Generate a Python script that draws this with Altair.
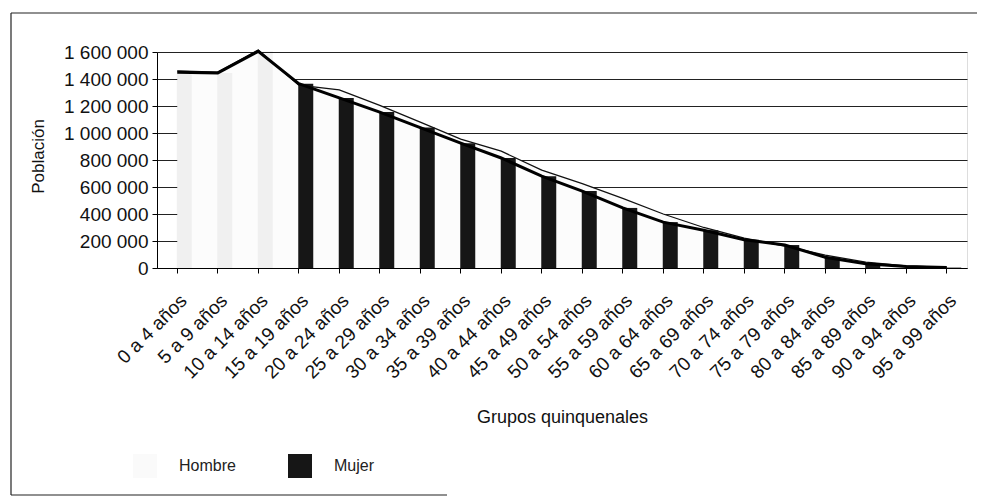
import altair as alt
import pandas as pd

grupos = ["0 a 4 años", "5 a 9 años", "10 a 14 años", "15 a 19 años", "20 a 24 años",
          "25 a 29 años", "30 a 34 años", "35 a 39 años", "40 a 44 años", "45 a 49 años",
          "50 a 54 años", "55 a 59 años", "60 a 64 años", "65 a 69 años", "70 a 74 años",
          "75 a 79 años", "80 a 84 años", "85 a 89 años", "90 a 94 años", "95 a 99 años"]
hombre = [1460000, 1450000, 1615000, 1355000, 1320000, 1205000, 1080000, 955000, 865000, 725000,
          625000, 515000, 400000, 300000, 222000, 163000, 96000, 44000, 15000, 4000]
mujer = [1450000, 1445000, 1605000, 1365000, 1260000, 1155000, 1040000, 925000, 815000, 680000,
         570000, 445000, 340000, 280000, 210000, 170000, 80000, 32000, 12000, 3000]
marcas_y = [0, 200000, 400000, 600000, 800000, 1000000, 1200000, 1400000, 1600000]
series = ["Hombre", "Mujer"]
desvanecidos = grupos[:3]  # columnas casi borradas en el original

df = pd.DataFrame({"grupo": grupos, "Hombre": hombre, "Mujer": mujer, "sexo": "Mujer"})

FONT = "Liberation Sans"

x_enc = alt.X(
    "grupo:N", sort=grupos,
    scale=alt.Scale(domain=grupos, paddingInner=0, paddingOuter=0),
    axis=alt.Axis(title="Grupos quinquenales", labelAngle=-45, labelFontSize=19, labelFont=FONT,
                  labelColor="#111", labelPadding=18, tickSize=5, tickColor="#000",
                  domainColor="#000", titleFontSize=18, titleFont=FONT, titleFontWeight="normal",
                  titleColor="#111", titleY=149, titleBaseline="middle", labelOverlap=False,
                  labelLimit=200, grid=False),
)
y_scale = alt.Scale(domain=[0, 1600000], nice=False, zero=True)
y_axis = alt.Axis(title="Población", values=marcas_y,
                  labelExpr="replace(replace(format(datum.value, ','), ',', ' '), ',', ' ')",
                  labelFontSize=19, labelFont=FONT, labelColor="#111", labelPadding=4,
                  tickSize=5, tickColor="#000", domainColor="#000",
                  grid=True, gridColor="#222", gridWidth=1,
                  titleFontSize=17, titleFont=FONT, titleFontWeight="normal", titleColor="#111",
                  titleX=-110, titleY=104, titleAngle=-90)

base = alt.Chart(df).encode(x=x_enc)

area = base.mark_area(color="#fcfcfc", opacity=1).encode(
    y=alt.Y("Hombre:Q", scale=y_scale, axis=y_axis))
linea_h = base.mark_line(color="#111", strokeWidth=1.3).encode(
    y=alt.Y("Hombre:Q", scale=y_scale, axis=y_axis))
barras = base.mark_bar(size=15, xOffset=7).encode(
    y=alt.Y("Mujer:Q", scale=y_scale, axis=y_axis),
    color=alt.Color("sexo:N", scale=alt.Scale(domain=series, range=["#fafafa", "#161616"]),
                    legend=alt.Legend(title=None, orient="none", legendX=-24, legendY=402,
                                      direction="horizontal", symbolType="square",
                                      symbolSize=576, symbolStrokeWidth=0, labelFontSize=16,
                                      labelFont=FONT, labelOffset=22, columnPadding=52,
                                      labelColor="#222")),
    opacity=alt.condition(alt.FieldOneOfPredicate(field="grupo", oneOf=desvanecidos),
                          alt.value(0.05), alt.value(1)),
)
linea_m = base.mark_line(color="#000", strokeWidth=3).encode(
    y=alt.Y("Mujer:Q", scale=y_scale, axis=y_axis))

uno = pd.DataFrame({"k": [0]})
borde_sup = alt.Chart(uno).mark_rule(color="#222", strokeWidth=1.2).encode(
    x=alt.value(-146), x2=alt.value(830), y=alt.value(-39))
borde_izq = alt.Chart(uno).mark_rule(color="#222", strokeWidth=1.2).encode(
    x=alt.value(-146), y=alt.value(-39), y2=alt.value(443))
borde_inf = alt.Chart(uno).mark_rule(color="#222", strokeWidth=1.2).encode(
    x=alt.value(-146), x2=alt.value(290), y=alt.value(443))

chart = alt.layer(borde_sup, borde_izq, borde_inf, area, linea_h, barras, linea_m).properties(
    width=810, height=216,
    autosize=alt.AutoSizeParams(type="none"),
    padding={"left": 149, "top": 44, "right": 10, "bottom": 228},
).configure_view(stroke=None).configure(background="white")

chart.save("out.html", embed_options={"renderer": "svg", "actions": False})
